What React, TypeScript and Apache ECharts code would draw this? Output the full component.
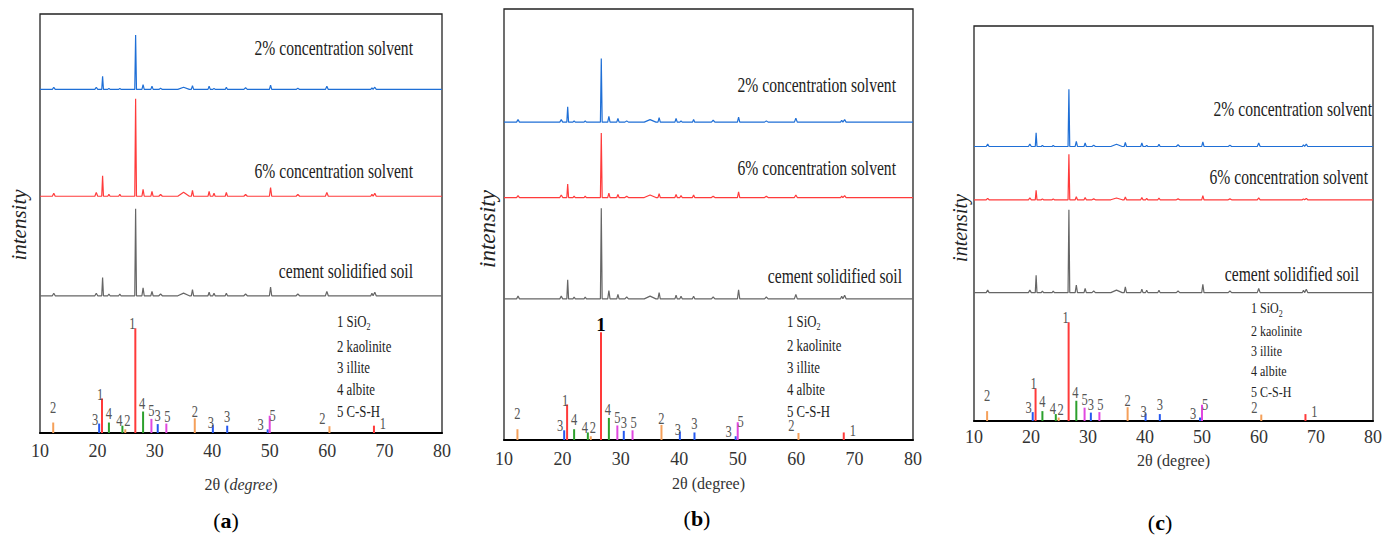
import React, { useEffect, useRef } from 'react';
import * as echarts from 'echarts';

const SERIF = "'Liberation Serif', 'Times New Roman', serif";

// ---- x axis ----
const X_MIN = 10;
const X_MAX = 80;
const X_STEP = 10;
const Y_MAX = 400;

// ---- diffraction peaks of the three samples (2θ, half width, relative intensity) ----
const PEAK_POS = [12.4, 19.8, 20.9, 22.0, 23.9, 26.65, 27.95, 29.5, 31.0, 35.0, 36.55, 39.45, 40.3, 42.45, 45.8, 50.15, 54.9, 59.95, 67.8, 68.3];
const PEAK_HW = [0.25, 0.25, 0.15, 0.2, 0.2, 0.15, 0.2, 0.2, 0.3, 1.0, 0.2, 0.2, 0.2, 0.2, 0.3, 0.2, 0.3, 0.25, 0.2, 0.25];
const BLUE_REL = [4, 4, 24, 2, 2, 100, 9, 6, 2, 4, 7, 6, 2, 4, 3, 8, 2, 6, 3, 4];
const RED_REL = [3, 4, 21, 2, 2, 100, 7, 5, 2, 4, 6, 5, 3, 4, 2, 9, 2, 4, 2, 3];
const GRAY_REL = [3, 3, 21, 2, 2, 100, 9, 5, 2, 3, 7, 4, 3, 3, 2, 10, 2, 5, 3, 4];

// per panel (a, b, c): baseline offsets and main-peak heights [blue, red, gray]
const PANEL_OFFSETS = [
  [328, 226, 131],
  [295, 225, 131],
  [278, 224, 130],
];
const PANEL_SCALES = [
  [52, 93, 83],
  [59, 60, 84],
  [58, 46, 84],
];

const TRACE_NAMES = ['2% concentration solvent', '6% concentration solvent', 'cement solidified soil'];
const TRACE_COLORS = ['#1f6fd6', '#ff3b3b', '#666666'];

// ---- standard reference lines (2θ, relative height) ----
const SIO2_POS = [20.8, 26.6, 68.15];
const SIO2_H = [33, 100, 7];
const KAOL_POS = [12.3, 24.85, 36.95, 60.4];
const KAOL_H = [10, 3.5, 14, 6.5];
const ILLITE_POS = [20.3, 30.5, 40.1, 42.6, 49.65];
const ILLITE_H = [9, 8.5, 7.5, 7, 3.5];
const ALBITE_POS = [22.0, 24.35, 27.95];
const ALBITE_H = [10, 7, 20.5];
const CSH_POS = [29.4, 32.0, 50.0];
const CSH_H = [13.5, 9, 16.5];

const PHASE_IDS = ['1', '2', '3', '4', '5'];
const PHASE_NAMES = ['SiO{sub|2}', 'kaolinite', 'illite', 'albite', 'C-S-H'];
const PHASE_COLORS = ['#ff3a3a', '#f5a05a', '#2458f0', '#2ca02c', '#e048e0'];
const PHASE_POS = [SIO2_POS, KAOL_POS, ILLITE_POS, ALBITE_POS, CSH_POS];
const PHASE_H = [SIO2_H, KAOL_H, ILLITE_H, ALBITE_H, CSH_H];

const PANEL_LETTERS = ['a', 'b', 'c'];
const X_NAMES = ['2θ ({i|degree})', '2θ (degree)', '2θ (degree)'];

// ---- layout ----
const GRIDS = [
  { left: 40, top: 14, width: 402, height: 419 },
  { left: 504, top: 9, width: 409, height: 431 },
  { left: 974, top: 26, width: 399, height: 395 },
];
const NAME_GAPS = [43, 35, 31];
const LABEL_MARGINS = [9, 10, 7];
const MAIN_LABEL_BOLD = [false, true, false];
// stick label placement (px): horizontal shift and gap between glyph bottom and stick top
const LABEL_DX = [
  [-2, -3, 9],
  [0, 2, 0, -7],
  [-4, 0, -2, 0, -7],
  [0, -3, -1],
  [0, 1, 3],
];
const LABEL_GAP = [
  [0, 0, -2],
  [11, 4, 2, 3],
  [0, 4, -2, 5, 0],
  [5, 1, 4],
  [4, 3, -4],
];
const TRACE_LABEL_POS = [
  [[413, 48], [413, 171], [413, 271.5]],
  [[896, 85], [896, 168.5], [902, 276.5]],
  [[1372, 109.5], [1368, 177.5], [1359, 274]],
];
const LEGEND_POS = [
  { x: 337, ys: [321, 346, 367, 389, 411], size: 16 },
  { x: 787, ys: [321, 345.5, 367, 389, 411], size: 16 },
  { x: 1251, ys: [308, 331.5, 351, 371, 392], size: 15 },
];
const INTENSITY_POS = [
  { x: 18.5, y: 225, size: 21 },
  { x: 487, y: 229, size: 23 },
  { x: 959.5, y: 228, size: 20 },
];
const LETTER_POS = [[226, 520], [697, 518], [1160, 522]];

function traceData(rel: number[], offset: number, scale: number) {
  const pts: number[][] = [[X_MIN, offset]];
  PEAK_POS.forEach((p, i) => {
    const w = PEAK_HW[i];
    pts.push([p - w, offset]);
    pts.push([p, offset + (rel[i] * scale) / 100]);
    pts.push([p + w, offset]);
  });
  pts.push([X_MAX, offset]);
  return pts;
}

function stickRender(k: number, label: string, color: string, boldMain: boolean) {
  return (params: any, api: any) => {
    const x = api.value(0);
    const h = api.value(1);
    const j = params.dataIndex;
    const top = api.coord([x, h]);
    const base = api.coord([x, 0]);
    const bold = boldMain && h >= 100;
    const dx = bold ? 0 : LABEL_DX[k][j];
    const gap = bold ? 2 : LABEL_GAP[k][j];
    return {
      type: 'group',
      children: [
        {
          type: 'rect',
          shape: { x: top[0] - 1, y: top[1], width: 2, height: base[1] - top[1] },
          style: { fill: color },
        },
        {
          type: 'text',
          x: top[0] + dx,
          y: top[1] - gap + 3.5,
          scaleX: bold ? 1 : 0.78,
          style: {
            text: label,
            fill: bold ? '#000' : '#555',
            font: bold ? `bold 19px ${SERIF}` : `16px ${SERIF}`,
            textAlign: 'center',
            textVerticalAlign: 'bottom',
            align: 'center',
            verticalAlign: 'bottom',
          },
        },
      ],
    };
  };
}

function buildOption() {
  const grid: any[] = [];
  const xAxis: any[] = [];
  const yAxis: any[] = [];
  const series: any[] = [];
  const graphic: any[] = [];

  GRIDS.forEach((g, pi) => {
    grid.push({ ...g, show: true, borderColor: '#222', borderWidth: 1.3, backgroundColor: 'transparent' });
    xAxis.push({
      type: 'value',
      gridIndex: pi,
      min: X_MIN,
      max: X_MAX,
      interval: X_STEP,
      axisLine: { show: true, lineStyle: { color: '#000', width: 2 } },
      axisTick: { show: false },
      splitLine: { show: false },
      axisLabel: { fontFamily: SERIF, fontSize: 18, color: '#333', margin: LABEL_MARGINS[pi], showMinLabel: true, showMaxLabel: true },
      name: X_NAMES[pi],
      nameLocation: 'middle',
      nameGap: NAME_GAPS[pi],
      nameTextStyle: {
        fontFamily: SERIF,
        fontSize: 16,
        color: '#333',
        rich: { i: { fontFamily: SERIF, fontSize: 16, fontStyle: 'italic', color: '#333' } },
      },
    });
    yAxis.push({ type: 'value', gridIndex: pi, min: 0, max: Y_MAX, show: false });

    [BLUE_REL, RED_REL, GRAY_REL].forEach((rel, ti) => {
      series.push({
        type: 'line',
        name: TRACE_NAMES[ti],
        xAxisIndex: pi,
        yAxisIndex: pi,
        data: traceData(rel, PANEL_OFFSETS[pi][ti], PANEL_SCALES[pi][ti]),
        symbol: 'none',
        showSymbol: false,
        silent: true,
        lineStyle: { width: 1.2, color: TRACE_COLORS[ti] },
      });
      const [lx, ly] = TRACE_LABEL_POS[pi][ti];
      graphic.push({
        type: 'text',
        x: lx,
        y: ly,
        scaleX: 0.78,
        style: {
          text: TRACE_NAMES[ti],
          font: `20px ${SERIF}`,
          fill: '#222',
          textAlign: 'right',
          textVerticalAlign: 'middle',
          align: 'right',
          verticalAlign: 'middle',
        },
      });
    });

    PHASE_IDS.forEach((id, k) => {
      series.push({
        type: 'custom',
        name: 'phase ' + id,
        xAxisIndex: pi,
        yAxisIndex: pi,
        silent: true,
        data: PHASE_POS[k].map((p, j) => [p, PHASE_H[k][j]]),
        encode: { x: 0, y: 1 },
        renderItem: stickRender(k, id, PHASE_COLORS[k], MAIN_LABEL_BOLD[pi]),
      });
      const lg = LEGEND_POS[pi];
      graphic.push({
        type: 'text',
        x: lg.x,
        y: lg.ys[k],
        scaleX: 0.8,
        style: {
          text: id + ' ' + PHASE_NAMES[k],
          font: `${lg.size}px ${SERIF}`,
          fill: '#222',
          textAlign: 'left',
          textVerticalAlign: 'middle',
          align: 'left',
          verticalAlign: 'middle',
          rich: {
            sub: { fontSize: 10, fontFamily: SERIF, fill: '#222', verticalAlign: 'bottom', lineHeight: 22 },
          },
        },
      });
    });

    const ip = INTENSITY_POS[pi];
    graphic.push({
      type: 'text',
      x: ip.x,
      y: ip.y,
      rotation: Math.PI / 2,
      style: {
        text: 'intensity',
        font: `italic ${ip.size}px ${SERIF}`,
        fill: '#222',
        textAlign: 'center',
        textVerticalAlign: 'middle',
        align: 'center',
        verticalAlign: 'middle',
      },
    });

    const [tx, ty] = LETTER_POS[pi];
    graphic.push({
      type: 'text',
      x: tx,
      y: ty,
      style: {
        text: '({b|' + PANEL_LETTERS[pi] + '})',
        font: `22px ${SERIF}`,
        fill: '#000',
        textAlign: 'center',
        textVerticalAlign: 'middle',
        align: 'center',
        verticalAlign: 'middle',
        rich: { b: { fontSize: 22, fontFamily: SERIF, fontWeight: 'bold', fill: '#000' } },
      },
    });
  });

  return {
    animation: false,
    backgroundColor: '#fff',
    grid,
    xAxis,
    yAxis,
    series,
    graphic,
  };
}

export default function App() {
  const ref = useRef<HTMLDivElement>(null);
  useEffect(() => {
    const chart = echarts.init(ref.current!, null, { renderer: 'svg' });
    chart.setOption(buildOption() as any);
    return () => chart.dispose();
  }, []);
  return (
    <div
      ref={ref}
      style={{ position: 'fixed', left: 0, top: 0, width: 1392, height: 535, background: '#fff' }}
    />
  );
}
